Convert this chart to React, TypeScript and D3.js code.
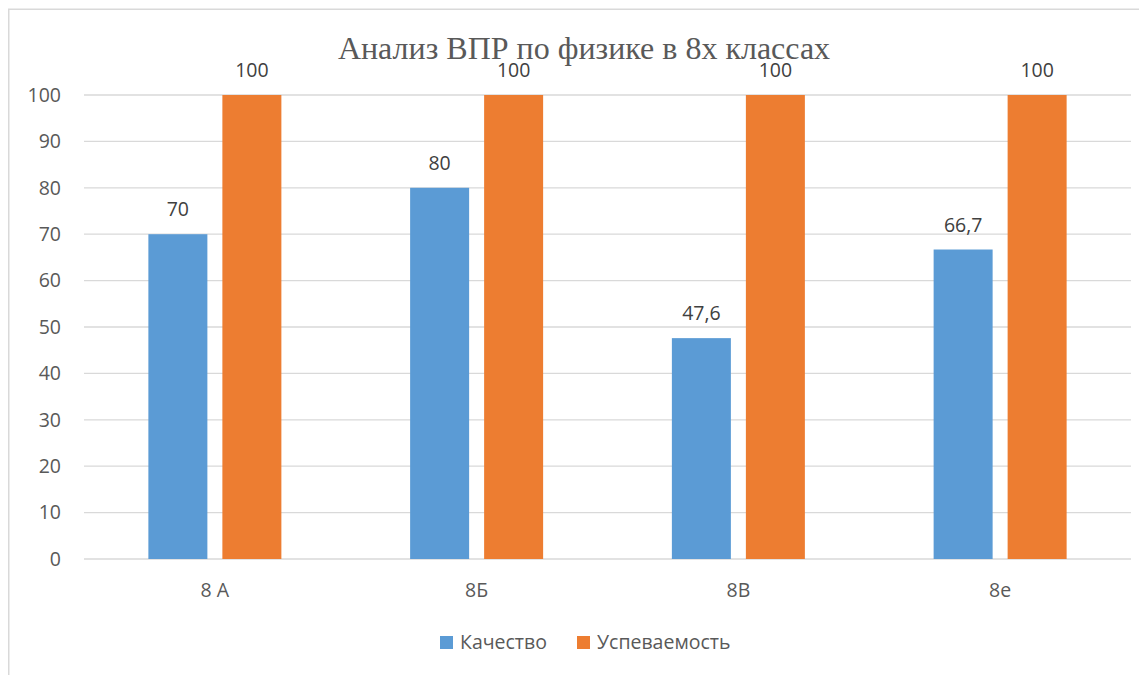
import React from 'react'
import * as d3 from 'd3'

const classes = ['8 А', '8Б', '8В', '8е']
const quality = [70, 80, 47.6, 66.7]
const success = [100, 100, 100, 100]
const seriesNames = ['Качество', 'Успеваемость']
const seriesColors = ['#5b9bd5', '#ed7d31']
const yTicks = [0, 10, 20, 30, 40, 50, 60, 70, 80, 90, 100]

const width = 1139
const height = 667
const plotLeft = 76
const plotRight = 1123
const plotTop = 87
const plotBottom = 551

const fmt = (v: number) => String(v).replace('.', ',')

const App = () => {
    const x = d3.scaleBand<string>().domain(classes).range([plotLeft, plotRight])
    const y = d3.scaleLinear().domain([0, 100]).range([plotBottom, plotTop])
    const groupHalf = 66.5
    const inner = d3.scaleBand<string>()
        .domain(seriesNames)
        .range([-groupHalf, groupHalf])
        .paddingInner(15 / 74)

    const seriesData = [quality, success]
    const font = '"Open Sans", "Liberation Sans", sans-serif'
    const fs = 19.5

    return (
        <svg width={width} height={height} style={{ display: 'block' }}>
            <rect x={0.75} y={1.25} width={width + 20} height={height + 20} fill="#fff" stroke="#d9d9d9" strokeWidth={1.5} />
            <text x={576} y={51} textAnchor="middle" fontFamily='"Liberation Serif", serif' fontSize={32} fill="#595959">
                Анализ ВПР по физике в 8х классах
            </text>
            {yTicks.map(t => (
                <g key={t}>
                    <line x1={plotLeft} x2={plotRight} y1={y(t)} y2={y(t)} stroke="#d9d9d9" strokeWidth={1.3} />
                    <text x={53} y={y(t)} dy="0.35em" textAnchor="end" fontFamily={font} fontSize={fs} fill="#595959">{t}</text>
                </g>
            ))}
            {classes.map((c, i) => {
                const cx = (x(c) as number) + x.bandwidth() / 2
                return (
                    <g key={c}>
                        {seriesNames.map((s, j) => {
                            const v = seriesData[j][i]
                            const bx = cx + (inner(s) as number)
                            return (
                                <g key={s}>
                                    <rect x={bx} y={y(v)} width={inner.bandwidth()} height={y(0) - y(v)} fill={seriesColors[j]} />
                                    <text x={bx + inner.bandwidth() / 2} y={y(v) - 18} textAnchor="middle" fontFamily={font} fontSize={fs} fill="#404040">{fmt(v)}</text>
                                </g>
                            )
                        })}
                        <text x={cx} y={589} textAnchor="middle" fontFamily={font} fontSize={fs} fill="#595959">{c}</text>
                    </g>
                )
            })}
            {seriesNames.map((s, j) => {
                const lx = j === 0 ? 432 : 569
                return (
                    <g key={s}>
                        <rect x={lx} y={628} width={13} height={13} fill={seriesColors[j]} />
                        <text x={lx + 20} y={641} fontFamily={font} fontSize={fs} fill="#595959">{s}</text>
                    </g>
                )
            })}
        </svg>
    )
}

export default App
